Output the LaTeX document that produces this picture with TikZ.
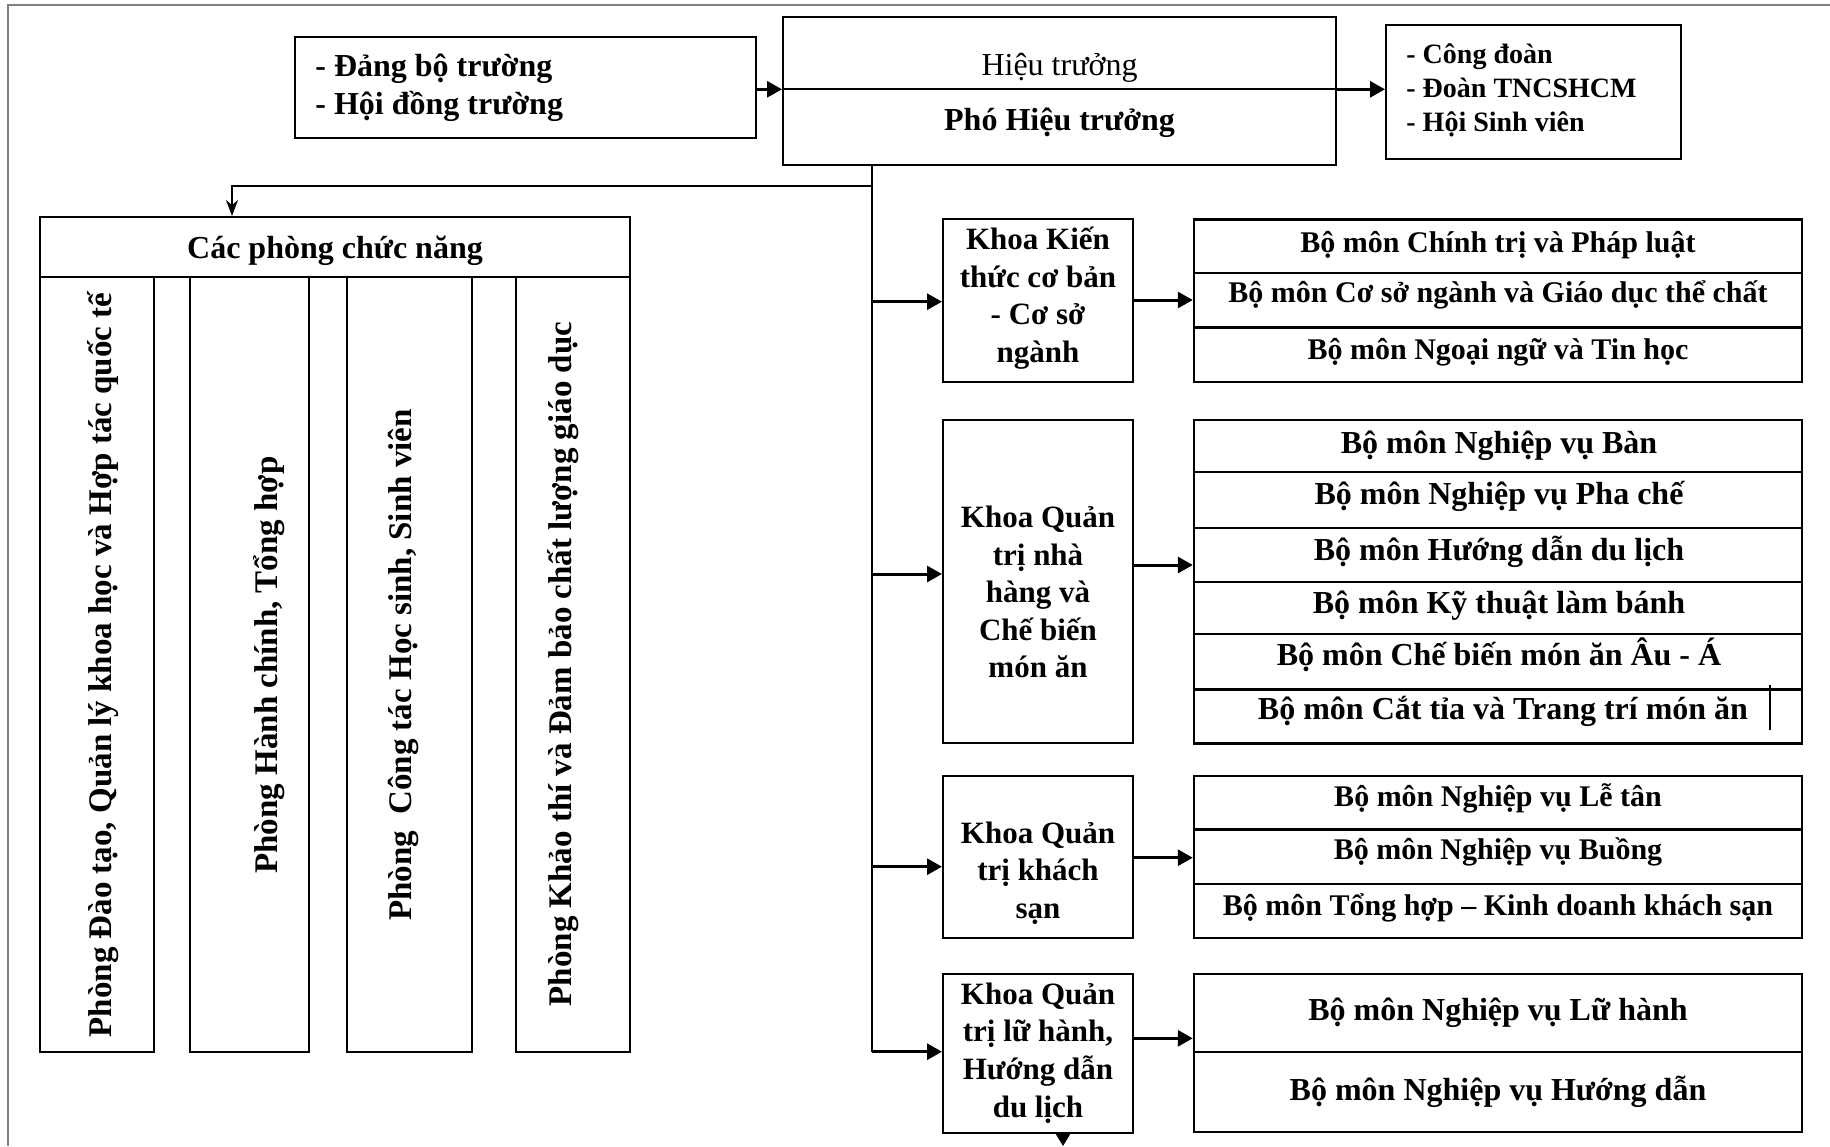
\documentclass[tikz,border=0pt]{standalone}
\usepackage{fontspec}
\setmainfont{Liberation Serif}
\usetikzlibrary{arrows.meta,fit}
\begin{document}
\begin{tikzpicture}[x=0.5pt,y=-0.5pt,
  box/.style={draw, line width=1pt, inner sep=0pt},
  rowbox/.style={draw, line width=1.2pt, inner sep=0pt},
  tb16/.style={inner sep=0pt, font=\fontsize{16}{19}\selectfont\bfseries, text height=10.6pt, text depth=0pt},
  tr16/.style={inner sep=0pt, font=\fontsize{16}{19}\selectfont, text height=10.6pt, text depth=0pt},
  tb15/.style={inner sep=0pt, font=\fontsize{15}{18}\selectfont\bfseries, text height=9.9pt, text depth=0pt},
  tvert/.style={inner sep=0pt, rotate=90, font=\fontsize{16.5}{19}\selectfont\bfseries, text height=10.9pt, text depth=0pt},
  khoat/.style={inner sep=0pt, align=center, font=\fontsize{15.5}{18.8}\selectfont\bfseries},
  listt/.style={inner sep=0pt, anchor=west, align=left},
  arr/.style={line width=1.5pt, -{Triangle[length=7.5pt,width=8pt]}},
  ln/.style={line width=1pt}]
\useasboundingbox (0,0) rectangle (1830,1146);
\fill[white] (0,0) rectangle (1830,1146);
% frame
\draw[gray, line width=1pt] (8,1146) -- (8,5) -- (1830,5);

% top row
\node[box, fit={(295,37.3) (756,138.3)}] (dang) {};
\node[listt, font=\fontsize{16}{18.85}\selectfont\bfseries] (dangT) at (315,87.5) {- Đảng bộ trường\\- Hội đồng trường};
\node[box, fit={(783,16.7) (1336,165)}] (hieu) {};
\coordinate (yA) at (0,89.3);
\draw[ln] (hieu.west |- yA) -- (hieu.east |- yA);
\node[tr16] (hieuT) at (1059.5,65) {Hiệu trưởng};
\node[tb16] (phoT) at (1059.5,120) {Phó Hiệu trưởng};
\node[box, fit={(1386,25) (1681,159.3)}] (cd) {};
\node[listt, font=\fontsize{14}{17}\selectfont\bfseries] (cdT) at (1406,90) {- Công đoàn\\- Đoàn TNCSHCM\\- Hội Sinh viên};
\draw[arr] (dang.east |- yA) -- (hieu.west |- yA);
\draw[arr] (hieu.east |- yA) -- (cd.west |- yA);

% functional rooms
\node[box, fit={(40,217) (630,277)}] (hdr) {};
\node[tb16] (hdrT) at (335,248.3) {Các phòng chức năng};
\node[box, fit={(40,277) (154,1052)}] (c1) {};
\node[box, fit={(190,277) (309,1052)}] (c2) {};
\node[box, fit={(347,277) (472,1052)}] (c3) {};
\node[box, fit={(516,277) (630,1052)}] (c4) {};
\node[tvert] (c1T) at (101,665) {Phòng Đào tạo, Quản lý khoa học và Hợp tác quốc tế};
\node[tvert] (c2T) at (267,665) {Phòng Hành chính, Tổng hợp};
\node[tvert] (c3T) at (401,665) {Phòng\ \ Công tác Học sinh, Sinh viên};
\node[tvert] (c4T) at (561,664) {Phòng Khảo thí và Đảm bảo chất lượng giáo dục};

% trunk
\coordinate (tx) at (872,0);
\coordinate (tb) at (872,1051.7);
\draw[ln] (hieu.south -| tx) -- (tb);
\coordinate (bl) at (872,185.7);
\coordinate (bx) at (232,185.7);
\draw[ln, -{Stealth[length=8pt,width=6pt]}] (bl) -- (bx) -- (bx |- hdr.north);

% faculties
\node[box, fit={(943,219.3) (1133,381.7)}] (k1) {};
\node[khoat] (k1T) at (1038,298) {Khoa Kiến\\thức cơ bản\\- Cơ sở\\ngành};
\node[box, fit={(943,420) (1133,743.3)}] (k2) {};
\node[khoat] (k2T) at (1038,592) {Khoa Quản\\trị nhà\\hàng và\\Chế biến\\món ăn};
\node[box, fit={(943,776) (1133,937.7)}] (k3) {};
\node[khoat] (k3T) at (1038,873) {Khoa Quản\\trị khách\\sạn};
\node[box, fit={(943,974) (1133,1133)}] (k4) {};
\node[khoat] (k4T) at (1038,1053) {Khoa Quản\\trị lữ hành,\\Hướng dẫn\\du lịch};

% group 1
\node[rowbox, fit={(1194,219.3) (1802,272.7)}] (r11) {};
\node[rowbox, fit={(1194,272.7) (1802,327.3)}] (r12) {};
\node[rowbox, fit={(1194,327.3) (1802,381.7)}] (r13) {};
\node[tb15] (r11T) at (1498,242.7) {Bộ môn Chính trị và Pháp luật};
\node[tb15] (r12T) at (1498,292.7) {Bộ môn Cơ sở ngành và Giáo dục thể chất};
\node[tb15] (r13T) at (1498,349.3) {Bộ môn Ngoại ngữ và Tin học};

% group 2
\node[rowbox, fit={(1194,420) (1802,471.7)}] (r21) {};
\node[rowbox, fit={(1194,471.7) (1802,527.7)}] (r22) {};
\node[rowbox, fit={(1194,527.7) (1802,581.7)}] (r23) {};
\node[rowbox, fit={(1194,581.7) (1802,634)}] (r24) {};
\node[rowbox, fit={(1194,634) (1802,689.3)}] (r25) {};
\node[rowbox, fit={(1194,689.3) (1802,743.3)}] (r26) {};
\node[tb16] (r21T) at (1499,442.7) {Bộ môn Nghiệp vụ Bàn};
\node[tb16] (r22T) at (1499,494.3) {Bộ môn Nghiệp vụ Pha chế};
\node[tb16] (r23T) at (1499,550) {Bộ môn Hướng dẫn du lịch};
\node[tb16] (r24T) at (1499,603.3) {Bộ môn Kỹ thuật làm bánh};
\node[tb16] (r25T) at (1499,655) {Bộ môn Chế biến món ăn Âu - Á};
\node[tb16] (r26T) at (1503,709.3) {Bộ môn Cắt tỉa và Trang trí món ăn};
\draw[line width=0.8pt] (1770,685) -- (1770,730);

% group 3
\node[rowbox, fit={(1194,776) (1802,829.3)}] (r31) {};
\node[rowbox, fit={(1194,829.3) (1802,884)}] (r32) {};
\node[rowbox, fit={(1194,884) (1802,937.7)}] (r33) {};
\node[tb15] (r31T) at (1498,796.7) {Bộ môn Nghiệp vụ Lễ tân};
\node[tb15] (r32T) at (1498,850) {Bộ môn Nghiệp vụ Buồng};
\node[tb15] (r33T) at (1498,906) {Bộ môn Tổng hợp – Kinh doanh khách sạn};

% group 4
\node[rowbox, fit={(1194,974) (1802,1051.7)}] (r41) {};
\node[rowbox, fit={(1194,1051.7) (1802,1132)}] (r42) {};
\node[tb16] (r41T) at (1498,1010) {Bộ môn Nghiệp vụ Lữ hành};
\node[tb16] (r42T) at (1498,1090) {Bộ môn Nghiệp vụ Hướng dẫn};

% arrows trunk -> faculties
\coordinate (a1) at (872,301.7);
\coordinate (a2) at (872,574);
\coordinate (a3) at (872,866.7);
\draw[arr] (a1) -- (a1 -| k1.west);
\draw[arr] (a2) -- (a2 -| k2.west);
\draw[arr] (a3) -- (a3 -| k3.west);
\draw[arr] (tb) -- (tb -| k4.west);
% arrows faculties -> departments
\coordinate (b1) at (0,300);
\coordinate (b2) at (0,565);
\coordinate (b3) at (0,857.7);
\coordinate (b4) at (0,1038.3);
\draw[arr] (k1.east |- b1) -- (r12.west |- b1);
\draw[arr] (k2.east |- b2) -- (r23.west |- b2);
\draw[arr] (k3.east |- b3) -- (r32.west |- b3);
\draw[arr] (k4.east |- b4) -- (r41.west |- b4);
% bottom arrow
\coordinate (bot) at (1063,1146);
\draw[line width=1pt, -{Triangle[length=6pt,width=7pt]}] (k4.south -| bot) -- (bot);
\end{tikzpicture}
\end{document}
